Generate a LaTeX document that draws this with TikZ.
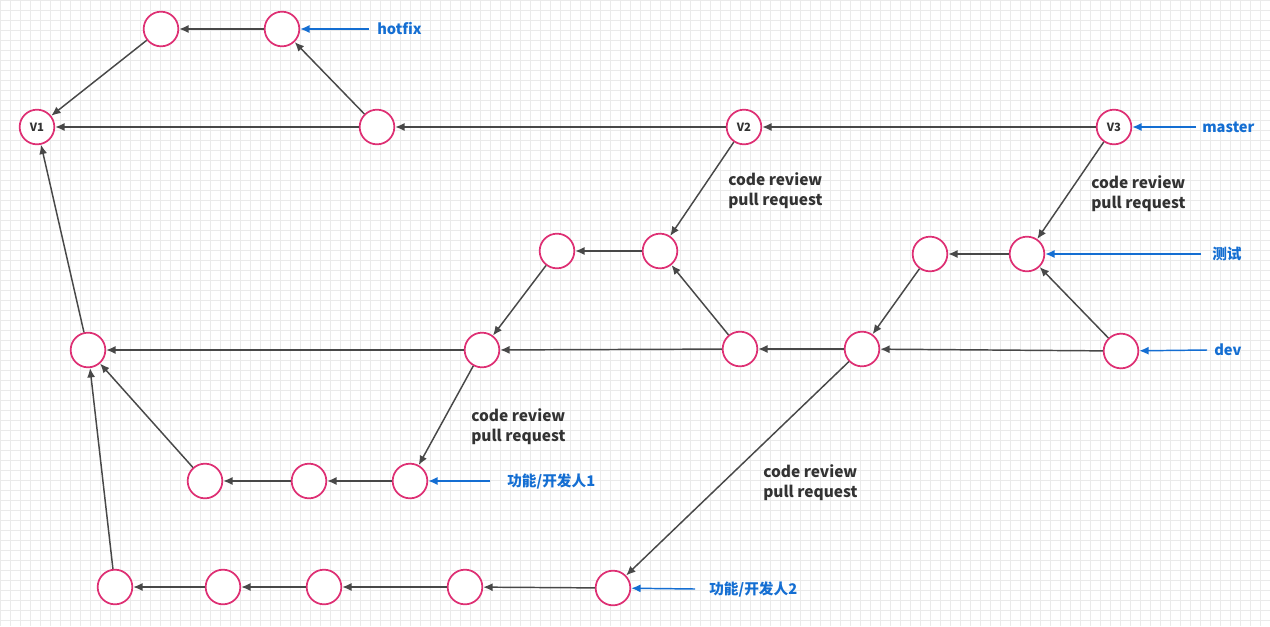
\documentclass[tikz,border=0pt]{standalone}
\usepackage{fontspec}
\setmainfont{Noto Sans CJK SC}
\usetikzlibrary{arrows.meta}
\definecolor{pinkc}{RGB}{222,48,116}
\definecolor{bluec}{RGB}{20,110,210}
\definecolor{edgec}{RGB}{72,72,72}
\definecolor{gridc}{RGB}{234,234,234}
\begin{document}
\begin{tikzpicture}[x=0.75pt,y=-0.75pt,
  commit/.style={circle,draw=pinkc,line width=1.3pt,fill=white,minimum size=26pt,inner sep=0pt,font=\bfseries\fontsize{8.5}{9}\selectfont,text=black!80},
  edge/.style={draw=edgec,line width=1.1pt,-{Latex[length=7pt,width=6pt]}},
  ptr/.style={draw=bluec,line width=1.1pt,-{Latex[length=7pt,width=6pt]}},
  lbl/.style={font=\bfseries\fontsize{11}{13}\selectfont,text=bluec,anchor=west,inner sep=0pt},
  note/.style={font=\bfseries\fontsize{11.6}{15.5}\selectfont,text=black!80,align=left,anchor=north west,inner sep=0pt}]
\useasboundingbox (0,0) rectangle (1270,626);
\fill[white] (0,0) rectangle (1270,626);
\draw[gridc,line width=0.5pt,step=7.5pt] (0,0) grid (1270,626);
% commits
\node[commit] (A) at (161,29) {};
\node[commit] (B) at (282,29) {};
\node[commit] (V1) at (37,127) {V1};
\node[commit] (C) at (377,127) {};
\node[commit] (V2) at (744,127) {V2};
\node[commit] (V3) at (1114,127) {V3};
\node[commit] (D1) at (557,251) {};
\node[commit] (D2) at (660,251) {};
\node[commit] (E1) at (930,254) {};
\node[commit] (E2) at (1027,254) {};
\node[commit] (F1) at (88,350) {};
\node[commit] (F2) at (482,350) {};
\node[commit] (F3) at (740,349) {};
\node[commit] (F4) at (862,349) {};
\node[commit] (F5) at (1121,351) {};
\node[commit] (G1) at (205,481) {};
\node[commit] (G2) at (309,481) {};
\node[commit] (G3) at (410,481) {};
\node[commit] (H1) at (115,587) {};
\node[commit] (H2) at (223,587) {};
\node[commit] (H3) at (324,587) {};
\node[commit] (H4) at (465,587) {};
\node[commit] (H5) at (613,588) {};
% edges
\draw[edge] (B) -- (A);
\draw[edge] (A) -- (V1);
\draw[edge] (C) -- (B);
\draw[edge] (C) -- (V1);
\draw[edge] (V2) -- (C);
\draw[edge] (V3) -- (V2);
\draw[edge] (V2) -- (D2);
\draw[edge] (D2) -- (D1);
\draw[edge] (D1) -- (F2);
\draw[edge] (F3) -- (D2);
\draw[edge] (F2) -- (F1);
\draw[edge] (F3) -- (F2);
\draw[edge] (F4) -- (F3);
\draw[edge] (F5) -- (F4);
\draw[edge] (F1) -- (V1);
\draw[edge] (V3) -- (E2);
\draw[edge] (E2) -- (E1);
\draw[edge] (E1) -- (F4);
\draw[edge] (F5) -- (E2);
\draw[edge] (F2) -- (G3);
\draw[edge] (G3) -- (G2);
\draw[edge] (G2) -- (G1);
\draw[edge] (G1) -- (F1);
\draw[edge] (F4) -- (H5);
\draw[edge] (H5) -- (H4);
\draw[edge] (H4) -- (H3);
\draw[edge] (H3) -- (H2);
\draw[edge] (H2) -- (H1);
\draw[edge] (H1) -- (F1);
% pointers
\node[lbl] (lhot) at (377,29) {hotfix};
\coordinate (phot) at (369,29);
\draw[ptr] (phot) -- (B);
\node[lbl] (lmas) at (1202,127) {master};
\coordinate (pmas) at (1196,127);
\draw[ptr] (pmas) -- (V3);
\node[lbl] (ltest) at (1212,254) {测试};
\coordinate (ptest) at (1201,254);
\draw[ptr] (ptest) -- (E2);
\node[lbl] (ldev) at (1214,350) {dev};
\coordinate (pdev) at (1207,350);
\draw[ptr] (pdev) -- (F5);
\node[lbl] (lf1) at (507,481) {功能/开发人1};
\coordinate (pf1) at (490,481);
\draw[ptr] (pf1) -- (G3);
\node[lbl] (lf2) at (709,589) {功能/开发人2};
\coordinate (pf2) at (695,589);
\draw[ptr] (pf2) -- (H5);
% notes
\node[note] (n1) at (728,172) {code review\\pull request};
\node[note] (n2) at (1091,175) {code review\\pull request};
\node[note] (n3) at (471,408) {code review\\pull request};
\node[note] (n4) at (763,464) {code review\\pull request};
\end{tikzpicture}
\end{document}
